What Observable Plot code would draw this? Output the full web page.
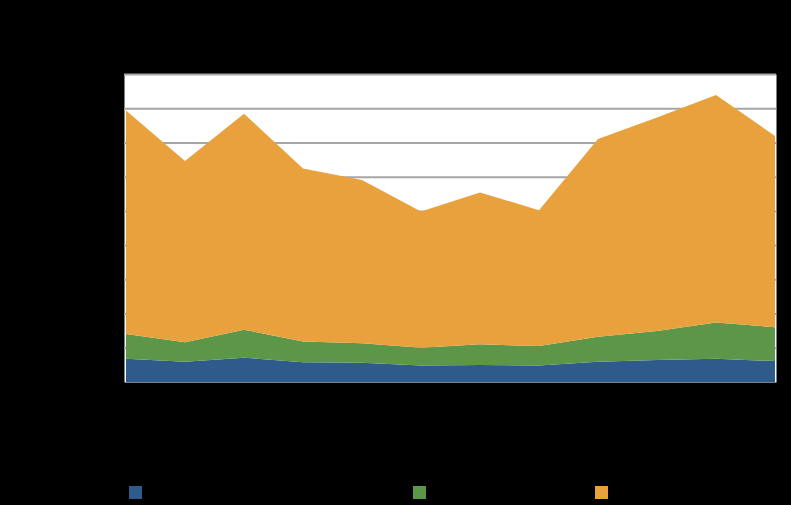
<!DOCTYPE html>
<html>
<head>
<meta charset="utf-8">
<script src="https://cdn.jsdelivr.net/npm/d3@7"></script>
<script src="https://cdn.jsdelivr.net/npm/@observablehq/plot@0.6"></script>
<style>
  html, body { margin: 0; padding: 0; background: #000; }
  #chart { width: 791px; height: 505px; position: relative; background: #000; font-family: "Liberation Sans", Arial, sans-serif; }
  #legend { position: relative; width: 791px; height: 30px; }
  .sw { position: absolute; top: 11px; width: 13px; height: 13px; }
  .lb { position: absolute; top: 9px; font-size: 13px; color: #000; }
</style>
</head>
<body>
<div id="chart"></div>
<script>
const categories = ["2008","2009","2010","2011","2012","2013","2014","2015","2016","2017","2018","2019"];
const seriesNames = ["Series 1", "Series 2", "Series 3"];
const series1 = [6.8, 5.9, 7.1, 5.8, 5.6, 4.8, 5.0, 4.8, 5.9, 6.4, 6.8, 6.1];
const series2 = [7.2, 5.7, 8.2, 6.0, 5.7, 5.2, 6.0, 5.7, 7.3, 8.5, 10.6, 9.9];
const series3 = [65.3, 53.0, 63.1, 50.6, 47.7, 39.8, 44.4, 39.7, 57.8, 62.4, 66.5, 55.9];
const colors = ["#2e5a8c", "#5c9649", "#e8a13c"];
const yTicks = [0, 10, 20, 30, 40, 50, 60, 70, 80, 90];

const allSeries = [series1, series2, series3];
const rows = [];
seriesNames.forEach((name, si) => {
  categories.forEach((c, i) => rows.push({cat: c, series: name, value: allSeries[si][i]}));
});

const plot = Plot.plot({
  width: 791,
  height: 475,
  marginLeft: 124,
  marginRight: 15,
  marginTop: 74,
  marginBottom: 93,
  style: {background: "#000", color: "#000", fontSize: "12px"},
  x: {type: "point", domain: categories, padding: 0, label: null},
  y: {domain: [0, 90], ticks: yTicks, label: null},
  color: {domain: seriesNames, range: colors},
  marks: [
    Plot.frame({fill: "white", stroke: "none"}),
    Plot.ruleY(yTicks.filter(d => d > 0), {stroke: "#a6a6a6", strokeWidth: 2}),
    Plot.areaY(rows, Plot.stackY({x: "cat", y: "value", z: "series", fill: "series", order: seriesNames})),
    Plot.axisY({ticks: yTicks, tickSize: 0, fill: "#000", tickPadding: 8}),
    Plot.axisX({tickSize: 0, fill: "#000", tickPadding: 14})
  ]
});
document.getElementById("chart").appendChild(plot);

const legend = document.createElement("div");
legend.id = "legend";
const lx = [129, 413, 595];
seriesNames.forEach((name, i) => {
  const sw = document.createElement("div");
  sw.className = "sw";
  sw.style.left = lx[i] + "px";
  sw.style.background = colors[i];
  legend.appendChild(sw);
  const lb = document.createElement("span");
  lb.className = "lb";
  lb.style.left = (lx[i] + 18) + "px";
  lb.textContent = name;
  legend.appendChild(lb);
});
document.getElementById("chart").appendChild(legend);
</script>
</body>
</html>
